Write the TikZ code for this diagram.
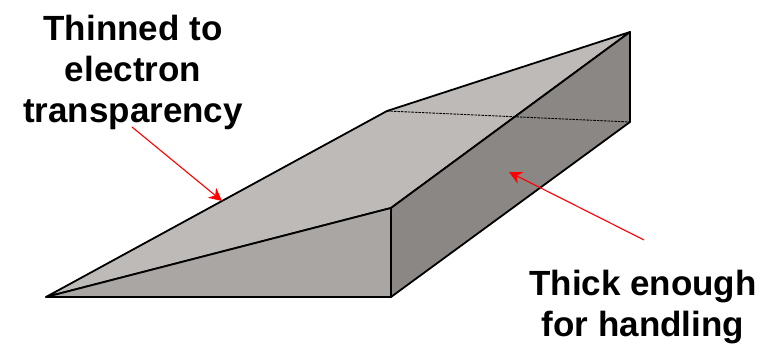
\documentclass[tikz,border=0pt]{standalone}
\usepackage{fontspec}
\setmainfont{Liberation Sans}
\usepackage{xcolor}
\usetikzlibrary{arrows.meta,positioning}
\begin{document}
\begin{tikzpicture}[x=1pt,y=-1pt,>=Stealth,font=\fontsize{35}{41}\selectfont\bfseries]
  \definecolor{cTop}{RGB}{190,186,184}
  \definecolor{cWedge}{RGB}{170,166,164}
  \definecolor{cSide}{RGB}{139,135,133}
  \tikzset{
    face/.style={draw=black,line width=1.8pt,line join=round},
    pointer/.style={-{Stealth[length=13pt,width=13pt]},red,line width=1.1pt},
    caption/.style={align=center,inner sep=0pt}
  }
  \useasboundingbox (0,0) rectangle (772,344);
  \coordinate (tip) at (46,297);
  \coordinate (frontTop) at (391,208);
  \coordinate (frontBot) at (391,297);
  \coordinate (backLeft) at (387,111);
  \coordinate (backTop) at (630,32);
  \coordinate (backBot) at (630,122);
  \filldraw[face,fill=cTop] (tip)--(backLeft)--(backTop)--(frontTop)--cycle;
  \filldraw[face,fill=cWedge] (tip)--(frontTop)--(frontBot)--cycle;
  \filldraw[face,fill=cSide] (frontTop)--(backTop)--(backBot)--(frontBot)--cycle;
  \draw[line width=0.9pt,dash pattern=on 2.5pt off 1pt] (backLeft)--(backBot);
  \node[caption] (thin) at (133,72) {Thinned to\\electron\\transparency};
  \node[caption] (thick) at (643,307) {Thick enough\\for handling};
  \coordinate (thinEnd) at (132,127);
  \coordinate (thinTip) at (222,201);
  \coordinate (thickEnd) at (644,240);
  \coordinate (thickTip) at (509,172);
  \draw[pointer] (thinEnd)--(thinTip);
  \draw[pointer] (thickEnd)--(thickTip);
\end{tikzpicture}
\end{document}
